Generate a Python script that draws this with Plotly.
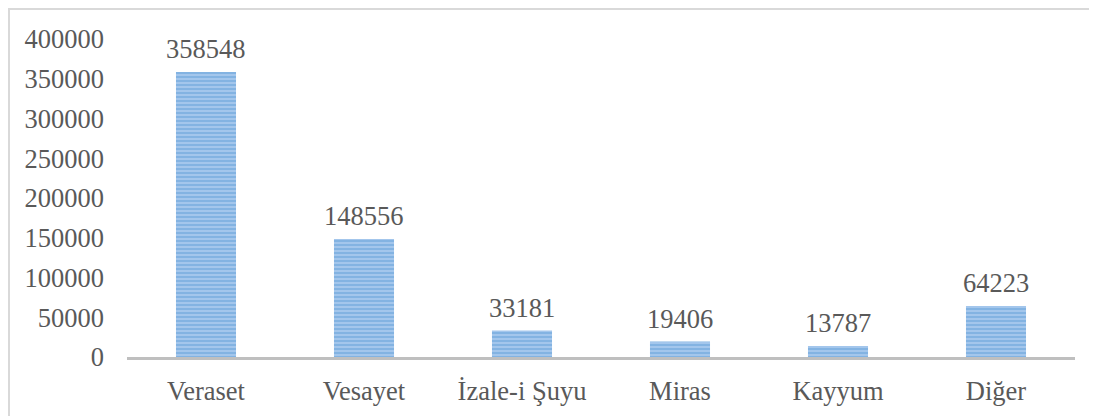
import plotly.graph_objects as go

categories = ["Veraset", "Vesayet", "İzale-i Şuyu", "Miras", "Kayyum", "Diğer"]
values = [358548, 148556, 33181, 19406, 13787, 64223]
y_ticks = [0, 50000, 100000, 150000, 200000, 250000, 300000, 350000, 400000]

font_family = "Liberation Serif, 'Times New Roman', 'DejaVu Serif', serif"
text_color = "#595959"
FS = 26.5

# page has an 8px body margin; compensate
OFF = 8
W, H = 1097 - OFF, 416 - OFF
L = 127 - OFF
T = 39 - OFF
R = W - (1075 - OFF)
B = H - (357 - OFF)
pw, ph = W - L - R, H - T - B

fig = go.Figure()
fig.add_trace(go.Bar(
    x=categories, y=values, width=0.38,
    marker=dict(
        color="#8fbbe6",
        line=dict(width=0),
        pattern=dict(shape="-", fgcolor="#5b9bd5", bgcolor="#aacbee", size=4, solidity=0.6),
    ),
    showlegend=False,
))

for c, v in zip(categories, values):
    fig.add_annotation(x=c, y=v, text=str(v), showarrow=False, yanchor="bottom",
                       yshift=6, font=dict(family=font_family, size=FS, color=text_color))

def px_x(p):
    return (p - L) / pw

def px_y(p):
    return (H - B - p) / ph

border = dict(color="#d9d9d9", width=2)
fig.add_shape(type="line", xref="paper", yref="paper", x0=px_x(0), x1=px_x(1200), y0=px_y(1), y1=px_y(1), line=border)
fig.add_shape(type="line", xref="paper", yref="paper", x0=px_x(1), x1=px_x(1), y0=px_y(0), y1=px_y(500), line=border)

fig.update_layout(
    width=W, height=H,
    margin=dict(l=L, r=R, t=T, b=B, autoexpand=False),
    plot_bgcolor="white", paper_bgcolor="white",
    font=dict(family=font_family, size=FS, color=text_color),
    bargap=0.62,
    xaxis=dict(showline=True, linecolor="#bfbfbf", linewidth=3, ticks="", showgrid=False,
               tickfont=dict(size=FS), ticklabelstandoff=8, automargin=False),
    yaxis=dict(range=[0, 400000], tickvals=y_ticks, ticktext=[str(t) for t in y_ticks],
               showgrid=False, zeroline=False, showline=False, ticks="",
               tickfont=dict(size=FS), ticklabelstandoff=22, automargin=False),
)

fig.write_html("out.html")
